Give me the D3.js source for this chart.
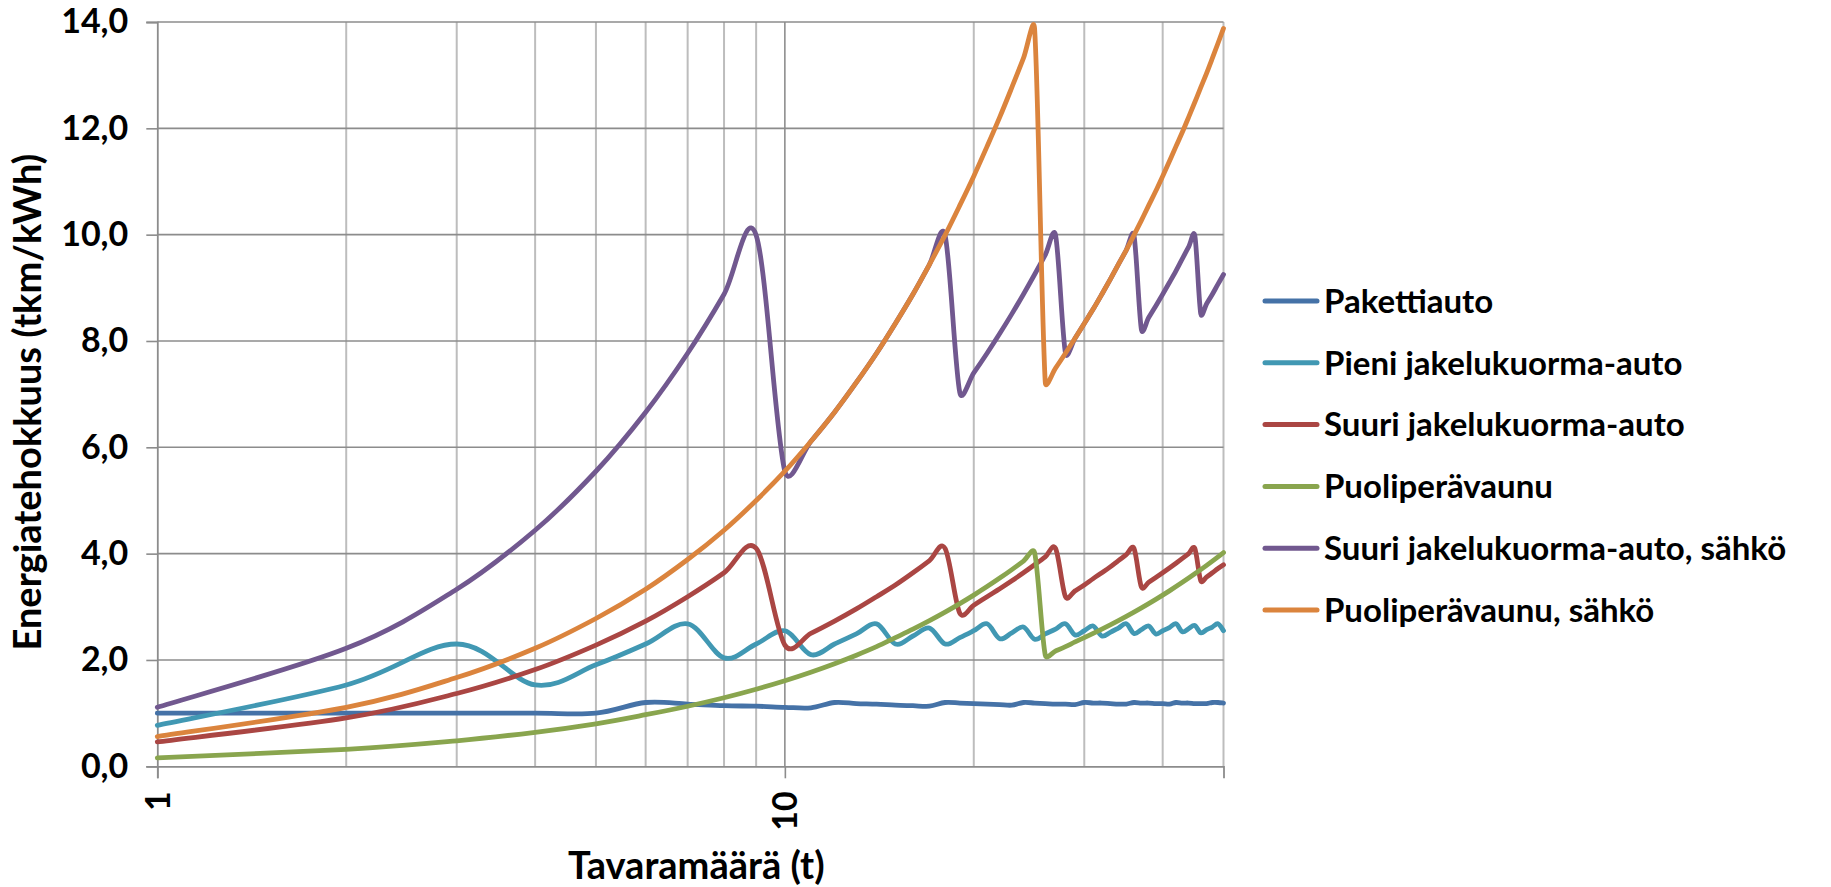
<!DOCTYPE html>
<html>
<head>
<meta charset="utf-8">
<script src="https://cdn.jsdelivr.net/npm/d3@7"></script>
<style>
  html, body { margin: 0; padding: 0; background: #ffffff; }
  svg { display: block; }
  text { font-family: Lato, "Open Sans", "Noto Sans", sans-serif; font-weight: 700; fill: #000; }
</style>
</head>
<body>
<svg id="chart" width="1831" height="887"></svg>
<script>
// ---- data ----
const tonnes = [1,2,3,4,5,6,7,8,9,10,11,12,13,14,15,16,17,18,19,20,21,22,23,24,25,26,27,28,29,30,31,32,33,34,35,36,37,38,39,40,41,42,43,44,45,46,47,48,49,50];

const pakettiauto = [1.00,1.00,1.00,1.00,1.00,1.20,1.17,1.14,1.13,1.11,1.10,1.20,1.18,1.17,1.15,1.14,1.13,1.20,1.19,1.18,1.17,1.16,1.15,1.20,1.19,1.18,1.17,1.17,1.16,1.20,1.19,1.19,1.18,1.17,1.17,1.20,1.19,1.19,1.18,1.18,1.17,1.20,1.19,1.19,1.18,1.18,1.18,1.20,1.20,1.19];

const pieniJakelu = [0.77,1.53,2.30,1.53,1.91,2.30,2.68,2.04,2.30,2.55,2.10,2.30,2.49,2.68,2.30,2.45,2.60,2.30,2.42,2.55,2.68,2.40,2.51,2.62,2.39,2.49,2.58,2.68,2.47,2.55,2.64,2.45,2.52,2.60,2.68,2.50,2.57,2.64,2.49,2.55,2.61,2.68,2.53,2.59,2.65,2.51,2.57,2.62,2.68,2.55];

const suuriJakelu = [0.46,0.91,1.37,1.82,2.28,2.73,3.19,3.64,4.10,2.28,2.50,2.73,2.96,3.19,3.41,3.64,3.87,4.10,2.88,3.03,3.19,3.34,3.49,3.64,3.79,3.94,4.10,3.19,3.30,3.41,3.53,3.64,3.75,3.87,3.98,4.10,3.37,3.46,3.55,3.64,3.73,3.82,3.91,4.00,4.10,3.49,3.56,3.64,3.72,3.79];

const puoliperavaunu = [0.16,0.32,0.48,0.64,0.80,0.97,1.13,1.29,1.45,1.61,1.77,1.93,2.09,2.25,2.42,2.58,2.74,2.90,3.06,3.22,3.38,3.54,3.70,3.86,4.02,2.09,2.17,2.25,2.34,2.42,2.50,2.58,2.66,2.74,2.82,2.90,2.98,3.06,3.14,3.22,3.30,3.38,3.46,3.54,3.62,3.70,3.78,3.86,3.94,4.02];

const suuriJakeluSahko = [1.11,2.22,3.33,4.44,5.55,6.66,7.77,8.88,9.99,5.55,6.11,6.66,7.22,7.77,8.33,8.88,9.44,9.99,7.03,7.40,7.77,8.14,8.51,8.88,9.25,9.62,9.99,7.77,8.05,8.33,8.60,8.88,9.16,9.44,9.71,9.99,8.21,8.44,8.66,8.88,9.10,9.32,9.55,9.77,9.99,8.51,8.70,8.88,9.07,9.25];

const puoliperavaunuSahko = [0.56,1.11,1.67,2.22,2.78,3.33,3.89,4.44,5.00,5.55,6.11,6.66,7.22,7.77,8.33,8.88,9.44,9.99,10.55,11.10,11.66,12.21,12.77,13.32,13.88,7.22,7.49,7.77,8.05,8.33,8.60,8.88,9.16,9.44,9.71,9.99,10.27,10.55,10.82,11.10,11.38,11.66,11.93,12.21,12.49,12.77,13.04,13.32,13.60,13.88];

const seriesNames = ["Pakettiauto", "Pieni jakelukuorma-auto", "Suuri jakelukuorma-auto", "Puoliperävaunu", "Suuri jakelukuorma-auto, sähkö", "Puoliperävaunu, sähkö"];
const seriesValues = [pakettiauto, pieniJakelu, suuriJakelu, puoliperavaunu, suuriJakeluSahko, puoliperavaunuSahko];
const seriesColors = ["#4572a7", "#4198b3", "#aa4643", "#89a54e", "#71588f", "#db843d"];

const yTickValues = [0, 2, 4, 6, 8, 10, 12, 14];
const xTickLabels = [1, 10];
const xDomain = [1, 50];
const yDomain = [0, 14];
const xTitle = "Tavaramäärä (t)";
const yTitle = "Energiatehokkuus (tkm/kWh)";

// ---- layout ----
const svg = d3.select("#chart");
const plot = { left: 157.3, right: 1223.5, top: 22, bottom: 766.3 };

const x = d3.scaleLog().domain(xDomain).range([plot.left, plot.right]);
const y = d3.scaleLinear().domain(yDomain).range([plot.bottom, plot.top]);

const fi = d3.formatLocale({ decimal: ",", thousands: " ", grouping: [3], currency: ["", " €"] });
const fmt = fi.format(".1f");

// Spreadsheet-style smoothed line: Catmull-Rom tangents, control arms limited
// to half of the adjacent segment length.
function smoothCurve(context) {
  let pts = [];
  return {
    areaStart() {}, areaEnd() {},
    lineStart() { pts = []; },
    point(px, py) { pts.push([+px, +py]); },
    lineEnd() {
      const n = pts.length;
      if (!n) return;
      context.moveTo(pts[0][0], pts[0][1]);
      const tan = pts.map((p, i) => {
        const a = pts[Math.max(0, i - 1)], b = pts[Math.min(n - 1, i + 1)];
        return [(b[0] - a[0]) / 6, (b[1] - a[1]) / 6];
      });
      const limit = (t, len) => {
        const l = Math.hypot(t[0], t[1]);
        const m = 0.5 * len;
        return l > m && l > 0 ? [t[0] * m / l, t[1] * m / l] : t;
      };
      for (let i = 0; i < n - 1; i++) {
        const p0 = pts[i], p1 = pts[i + 1];
        const seg = Math.hypot(p1[0] - p0[0], p1[1] - p0[1]);
        const t0 = limit(tan[i], seg), t1 = limit(tan[i + 1], seg);
        context.bezierCurveTo(p0[0] + t0[0], p0[1] + t0[1], p1[0] - t1[0], p1[1] - t1[1], p1[0], p1[1]);
      }
    }
  };
}

// vertical gridlines (log)
const xGrid = x.ticks();
svg.append("g").selectAll("line").data(xGrid.filter(d => d !== 1 && d !== 10))
  .join("line")
  .attr("x1", d => x(d)).attr("x2", d => x(d))
  .attr("y1", plot.top).attr("y2", plot.bottom)
  .attr("stroke", "#bdbdbd").attr("stroke-width", 2);

svg.append("g").selectAll("line").data([10])
  .join("line")
  .attr("x1", d => x(d)).attr("x2", d => x(d))
  .attr("y1", plot.top).attr("y2", plot.bottom)
  .attr("stroke", "#8e8e8e").attr("stroke-width", 1.6);

// horizontal gridlines
svg.append("g").selectAll("line").data(yTickValues.filter(d => d !== 0))
  .join("line")
  .attr("x1", plot.left).attr("x2", plot.right)
  .attr("y1", d => y(d)).attr("y2", d => y(d))
  .attr("stroke", "#8c8c8c").attr("stroke-width", 1.6);

// y axis
const yAxis = d3.axisLeft(y).tickValues(yTickValues).tickSize(11).tickPadding(18).tickFormat(fmt);
const gy = svg.append("g").attr("transform", `translate(${plot.left},0)`).call(yAxis);
gy.select(".domain").attr("stroke", "#8c8c8c").attr("stroke-width", 1.8);
gy.selectAll(".tick line").attr("stroke", "#8c8c8c").attr("stroke-width", 1.6);
gy.selectAll(".tick text").attr("font-size", 34).attr("font-family", "Lato, sans-serif").attr("font-weight", 700).attr("fill", "#000");

// x axis
const xAxis = d3.axisBottom(x).tickValues(xTickLabels).tickSize(12).tickFormat(d3.format("d"));
const gx = svg.append("g").attr("transform", `translate(0,${plot.bottom})`).call(xAxis);
gx.select(".domain").attr("stroke", "#8c8c8c").attr("stroke-width", 1.8);
gx.selectAll(".tick line").attr("stroke", "#8c8c8c").attr("stroke-width", 1.6);
gx.selectAll(".tick text")
  .attr("font-size", 34).attr("font-family", "Lato, sans-serif").attr("font-weight", 700).attr("fill", "#000")
  .attr("text-anchor", "end")
  .attr("transform", "rotate(-90)")
  .attr("x", -25).attr("y", 0).attr("dy", "0.35em");

// series lines
const line = d3.line()
  .x((d, i) => x(tonnes[i]))
  .y(d => y(d))
  .curve(smoothCurve);

svg.append("g").selectAll("path").data(seriesValues)
  .join("path")
  .attr("d", d => line(d))
  .attr("fill", "none")
  .attr("stroke", (d, i) => seriesColors[i])
  .attr("stroke-width", 4.8)
  .attr("stroke-linejoin", "round")
  .attr("stroke-linecap", "round");

// axis titles
svg.append("text")
  .attr("x", (plot.left + plot.right) / 2 + 6).attr("y", 879)
  .attr("text-anchor", "middle").attr("font-size", 38)
  .text(xTitle);

svg.append("text")
  .attr("transform", `translate(41,${(plot.top + plot.bottom) / 2 + 8}) rotate(-90)`)
  .attr("text-anchor", "middle").attr("font-size", 38)
  .text(yTitle);

// legend
const legend = svg.append("g").attr("transform", "translate(1263,301)");
const rowH = 61.8;
const items = legend.selectAll("g").data(seriesNames).join("g")
  .attr("transform", (d, i) => `translate(0,${i * rowH})`);
items.append("line")
  .attr("x1", 2).attr("x2", 54).attr("y1", 0).attr("y2", 0)
  .attr("stroke", (d, i) => seriesColors[i]).attr("stroke-width", 5).attr("stroke-linecap", "round");
items.append("text")
  .attr("x", 61).attr("y", 0).attr("dy", "0.36em")
  .attr("font-size", 33)
  .text(d => d);
</script>
</body>
</html>
